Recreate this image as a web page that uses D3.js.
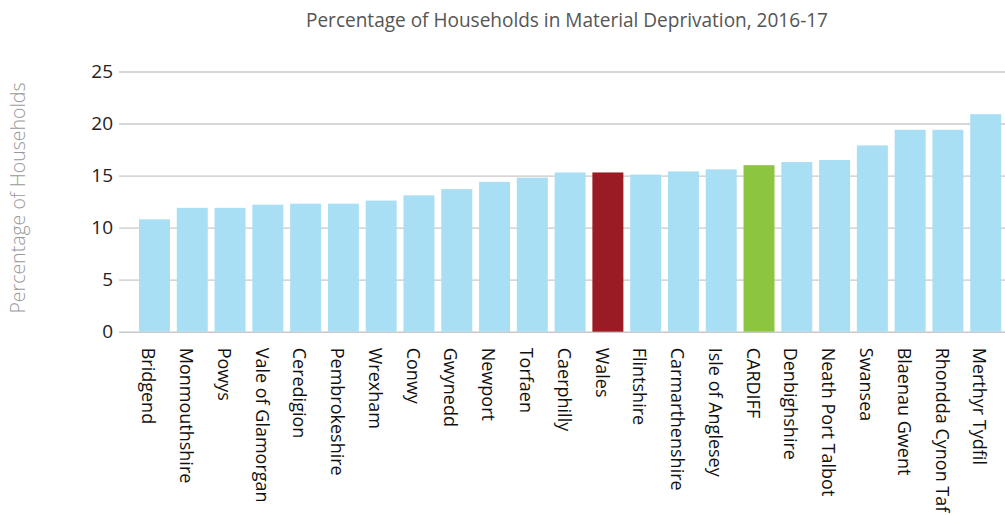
<!DOCTYPE html>
<html>
<head>
<meta charset="utf-8">
<script src="https://cdn.jsdelivr.net/npm/d3@7"></script>
<style>
  body { margin: 0; background: #fff; }
  svg { display: block; }
</style>
</head>
<body>
<svg id="chart"></svg>
<script>
// areas and values
const areas = ["Bridgend","Monmouthshire","Powys","Vale of Glamorgan","Ceredigion","Pembrokeshire",
  "Wrexham","Conwy","Gwynedd","Newport","Torfaen","Caerphilly","Wales","Flintshire","Carmarthenshire",
  "Isle of Anglesey","CARDIFF","Denbighshire","Neath Port Talbot","Swansea","Blaenau Gwent",
  "Rhondda Cynon Taf","Merthyr Tydfil"];
const values = [10.8, 11.9, 11.9, 12.2, 12.3, 12.3, 12.6, 13.1, 13.7, 14.4, 14.8, 15.3, 15.3, 15.1,
  15.4, 15.6, 16.0, 16.3, 16.5, 17.9, 19.4, 19.4, 20.9];
const yTicks = [0, 5, 10, 15, 20, 25];
const highlight = { "Wales": "#9b1b24", "CARDIFF": "#8cc640" };

const W = 1005, H = 515;
const svg = d3.select("#chart").attr("width", W).attr("height", H);

const x = d3.scaleBand()
    .domain(areas)
    .range([135.6, 1004.6])
    .paddingInner(0.18)
    .paddingOuter(0.09);

const y = d3.scaleLinear()
    .domain([0, 25])
    .range([331.7, 71.5]);

// gridlines + y labels
const yAxis = svg.append("g")
    .attr("transform", "translate(119,0)")
    .call(d3.axisLeft(y).tickValues(yTicks).tickSize(-(W - 119)).tickPadding(6));
yAxis.select(".domain").remove();
yAxis.selectAll("line").attr("stroke", "#c8c8c8").attr("stroke-width", 1.4);
yAxis.selectAll("text")
    .attr("font-family", "'Open Sans', sans-serif")
    .attr("font-size", 19)
    .attr("fill", "#222");

// bars
svg.append("g")
  .selectAll("rect")
  .data(areas)
  .join("rect")
    .attr("x", d => x(d))
    .attr("width", x.bandwidth())
    .attr("y", (d, i) => y(values[i]))
    .attr("height", (d, i) => y(0) - y(values[i]))
    .attr("fill", d => highlight[d] || "#a9dff4");

// category labels, rotated to read downwards
const xAxis = svg.append("g")
    .attr("transform", `translate(0,${y(0)})`)
    .call(d3.axisBottom(x).tickSize(0));
xAxis.select(".domain").remove();
xAxis.selectAll("text")
    .attr("font-family", "'Open Sans', sans-serif")
    .attr("font-size", 18)
    .attr("fill", "#111")
    .attr("text-anchor", "start")
    .attr("transform", "rotate(90)")
    .attr("x", 16)
    .attr("y", 6)
    .attr("dy", "0.35em");

// title
svg.append("text")
    .attr("x", 567)
    .attr("y", 27)
    .attr("text-anchor", "middle")
    .attr("font-family", "'Liberation Sans Narrow', 'Open Sans', sans-serif")
    .attr("font-size", 20)
    .attr("fill", "#555")
    .attr("textLength", 522)
    .attr("lengthAdjust", "spacingAndGlyphs")
    .text("Percentage of Households in Material Deprivation, 2016-17");

// y axis title
svg.append("text")
    .attr("transform", "translate(25,198) rotate(-90)")
    .attr("text-anchor", "middle")
    .attr("font-family", "'Open Sans', sans-serif")
    .attr("font-weight", 300)
    .attr("font-size", 19.5)
    .attr("fill", "#999")
    .text("Percentage of Households");
</script>
</body>
</html>
